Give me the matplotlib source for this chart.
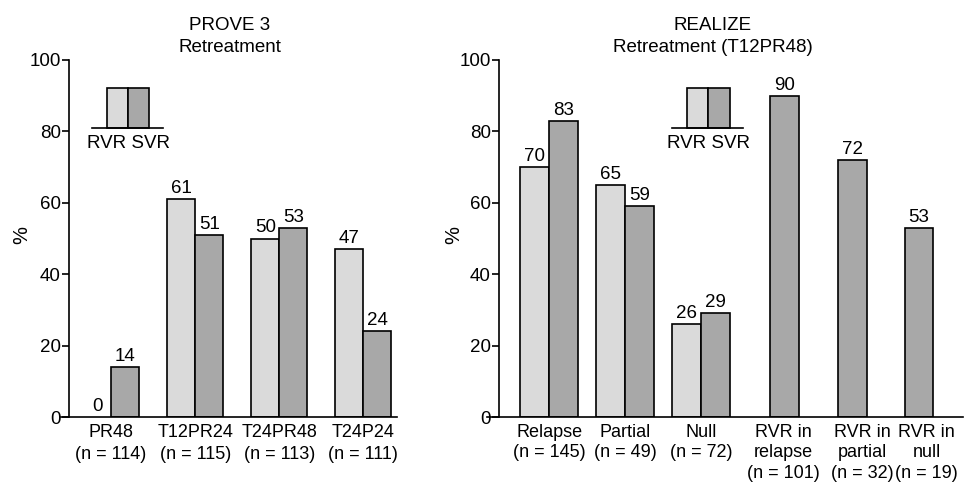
import numpy as np
import matplotlib.pyplot as plt
from matplotlib.patches import Rectangle

plt.rcParams['font.family'] = ['Liberation Sans', 'DejaVu Sans']

#=================================================================
# PROVE 3 retreatment arms
prove_arms = ['PR48\n(n = 114)', 'T12PR24\n(n = 115)', 'T24PR48\n(n = 113)', 'T24P24\n(n = 111)']
prove_rvr = [0, 61, 50, 47]
prove_svr = [14, 51, 53, 24]

# REALIZE retreatment (T12PR48) subgroups
realize_groups = ['Relapse\n(n = 145)', 'Partial\n(n = 49)', 'Null\n(n = 72)',
                  'RVR in\nrelapse\n(n = 101)', 'RVR in\npartial\n(n = 32)', 'RVR in\nnull\n(n = 19)']
realize_rvr = [70, 65, 26]
realize_svr = [83, 59, 29]
realize_rvr_svr = [90, 72, 53]

#=================================================================
c_rvr = '#dadada'
c_svr = '#a8a8a8'
fs = 13.5
lw = 1.2

fig = plt.figure(figsize=(9.64, 4.83), dpi=100)
ax1 = fig.add_axes([69/964, 66/483, 328/964, 357/483])
ax2 = fig.add_axes([499/964, 66/483, 464/964, 357/483])


def style_axes(ax, ylab_x):
  ax.set_ylim(0, 100)
  ax.set_yticks([0, 20, 40, 60, 80, 100])
  for s in ['top', 'right', 'bottom']:
    ax.spines[s].set_visible(False)
  ax.spines['left'].set_linewidth(lw)
  ax.axhline(0, xmin=-0.025, xmax=1, color='k', lw=lw, clip_on=False)
  ax.tick_params(axis='y', length=5, width=lw, labelsize=fs, pad=1)
  ax.tick_params(axis='x', length=0, labelsize=13, pad=5)
  ax.set_ylabel('%', fontsize=fs + 1)
  ax.yaxis.set_label_coords(ylab_x, 0.51)


def bar_labels(ax, x, vals):
  for xi, v in zip(x, vals):
    ax.text(xi, v + 0.6, str(v), ha='center', va='bottom', fontsize=fs)


def legend_key(ax, x0, w):
  # little RVR/SVR key drawn in axes fraction
  ax.add_patch(Rectangle((x0, 0.81), w, 0.112, transform=ax.transAxes,
                         facecolor=c_rvr, edgecolor='k', lw=lw))
  ax.add_patch(Rectangle((x0 + w, 0.81), w, 0.112, transform=ax.transAxes,
                         facecolor=c_svr, edgecolor='k', lw=lw))
  ax.plot([x0 - 0.7*w, x0 + 2.65*w], [0.81, 0.81], transform=ax.transAxes,
          color='k', lw=lw)
  ax.text(x0 + w, 0.765, 'RVR SVR', transform=ax.transAxes, ha='center',
          va='center', fontsize=fs)


#=================================================================
# left panel
bw = 1/3.
x = np.arange(len(prove_arms))
ax1.bar(x[1:] - bw/2, prove_rvr[1:], bw, color=c_rvr, edgecolor='k', lw=lw)
ax1.bar(x + bw/2, prove_svr, bw, color=c_svr, edgecolor='k', lw=lw)
bar_labels(ax1, x - bw/2, prove_rvr)
bar_labels(ax1, x + bw/2, prove_svr)
ax1.set_xlim(-0.5, 3.4)
ax1.set_xticks(x)
ax1.set_xticklabels(prove_arms, linespacing=1.4)
style_axes(ax1, -0.116)
legend_key(ax1, 0.116, 0.064)
ax1.text(0.49, 1.012, 'PROVE 3\nRetreatment', transform=ax1.transAxes,
         ha='center', va='bottom', fontsize=fs, linespacing=1.35)

#=================================================================
# right panel
bw2 = 0.38
xg = np.array([0, 1, 2])
xs = np.array([3.1, 4.0, 4.87])
ax2.bar(xg - bw2/2, realize_rvr, bw2, color=c_rvr, edgecolor='k', lw=lw)
ax2.bar(xg + bw2/2, realize_svr, bw2, color=c_svr, edgecolor='k', lw=lw)
ax2.bar(xs, realize_rvr_svr, bw2, color=c_svr, edgecolor='k', lw=lw)
bar_labels(ax2, xg - bw2/2, realize_rvr)
bar_labels(ax2, xg + bw2/2, realize_svr)
bar_labels(ax2, xs, realize_rvr_svr)
ax2.set_xlim(-0.66, 5.45)
# label slots sit a little right of the single bars
ax2.set_xticks([0, 1, 2, 3.08, 4.13, 4.97])
ax2.set_xticklabels(realize_groups, linespacing=1.27, va='top')
style_axes(ax2, -0.078)
legend_key(ax2, 0.405, 0.046)
ax2.text(0.46, 1.012, 'REALIZE\nRetreatment (T12PR48)', transform=ax2.transAxes,
         ha='center', va='bottom', fontsize=fs, linespacing=1.35)

fig.savefig('out.png', dpi=100)
